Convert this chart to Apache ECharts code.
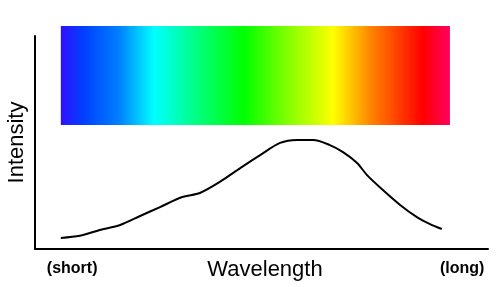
<!DOCTYPE html>
<html><head><meta charset="utf-8">
<script src="https://cdn.jsdelivr.net/npm/echarts@6/dist/echarts.min.js"></script>
<style>html,body{margin:0;padding:0;background:#fff}#c{width:502px;height:287px}</style>
</head><body><div id="c"></div>
<script>
// Curve: wavelength position (0-100 axis units) and intensity (0-100)
const wavelength = [5.7, 9.9, 14.3, 18.8, 23.2, 27.6, 32.5, 36.4, 40.8, 45.3, 49.7, 54.1, 57.8, 61.4, 65.1, 68.0, 71.1, 73.3, 76.8, 80.6, 84.3, 87.2, 89.8];
const intensity  = [5.2, 6.2, 8.9, 11.3, 15.5, 19.7, 24.4, 26.3, 31.5, 38.0, 44.1, 49.8, 51.2, 51.2, 48.8, 45.5, 40.4, 34.7, 27.7, 20.7, 15.0, 11.7, 9.4];
// Spectrum band extent in axis units: [xStart, xEnd, yBottom, yTop]
const spectrumBand = [5.7, 91.6, 58.2, 104.7];
const spectrumColors = ['#3010ff','#0040ff','#0080ff','#00ffff','#00ff80','#00ff00','#80ff00','#ffff00','#ff8000','#ff0000','#ff0060'];
const spectrumStops  = [0, 0.06, 0.15, 0.24, 0.35, 0.47, 0.58, 0.70, 0.80, 0.93, 1];
const endLabels = { 8.2: '(short)', 94.3: '(long)' };
const axisNames = { x: 'Wavelength', y: 'Intensity' };

const chart = echarts.init(document.getElementById('c'), null, {renderer: 'canvas'});
chart.setOption({
  animation: false,
  grid: { left: 35, top: 36, right: 14, bottom: 38, containLabel: false, outerBoundsMode: 'none' },
  xAxis: {
    type: 'value', min: 0, max: 100,
    name: axisNames.x, nameLocation: 'middle', nameGap: 10, nameMoveOverlap: false,
    nameTextStyle: { fontFamily: 'Liberation Sans', fontSize: 22, color: '#000', padding: [0, 0, 0, 7] },
    axisLine: { show: true, onZero: false, lineStyle: { color: '#000', width: 2 } },
    axisTick: { show: false },
    splitLine: { show: false },
    axisLabel: {
      show: true, customValues: Object.keys(endLabels).map(Number),
      formatter: v => endLabels[v] || '',
      margin: 12, fontFamily: 'Liberation Sans', fontWeight: 'bold', fontSize: 16, color: '#000'
    }
  },
  yAxis: {
    type: 'value', min: 0, max: 100,
    name: axisNames.y, nameLocation: 'middle', nameGap: 7, nameMoveOverlap: false,
    nameTextStyle: { fontFamily: 'Liberation Sans', fontSize: 22, color: '#000', padding: [0, 0, 0, 0] },
    axisLine: { show: true, onZero: false, lineStyle: { color: '#000', width: 2 } },
    axisTick: { show: false }, axisLabel: { show: false }, splitLine: { show: false }
  },
  series: [
    {
      type: 'custom', clip: false, silent: true,
      data: [spectrumBand],
      renderItem: function (params, api) {
        const p0 = api.coord([api.value(0), api.value(3)]);
        const p1 = api.coord([api.value(1), api.value(2)]);
        return {
          type: 'rect',
          shape: { x: p0[0], y: p0[1], width: p1[0] - p0[0], height: p1[1] - p0[1] },
          style: {
            fill: new echarts.graphic.LinearGradient(0, 0, 1, 0,
              spectrumStops.map((o, i) => ({ offset: o, color: spectrumColors[i] })))
          }
        };
      }
    },
    {
      type: 'line', showSymbol: false, smooth: 0.3,
      data: wavelength.map((x, i) => [x, intensity[i]]),
      lineStyle: { color: '#000', width: 2 }
    }
  ]
});
</script></body></html>
